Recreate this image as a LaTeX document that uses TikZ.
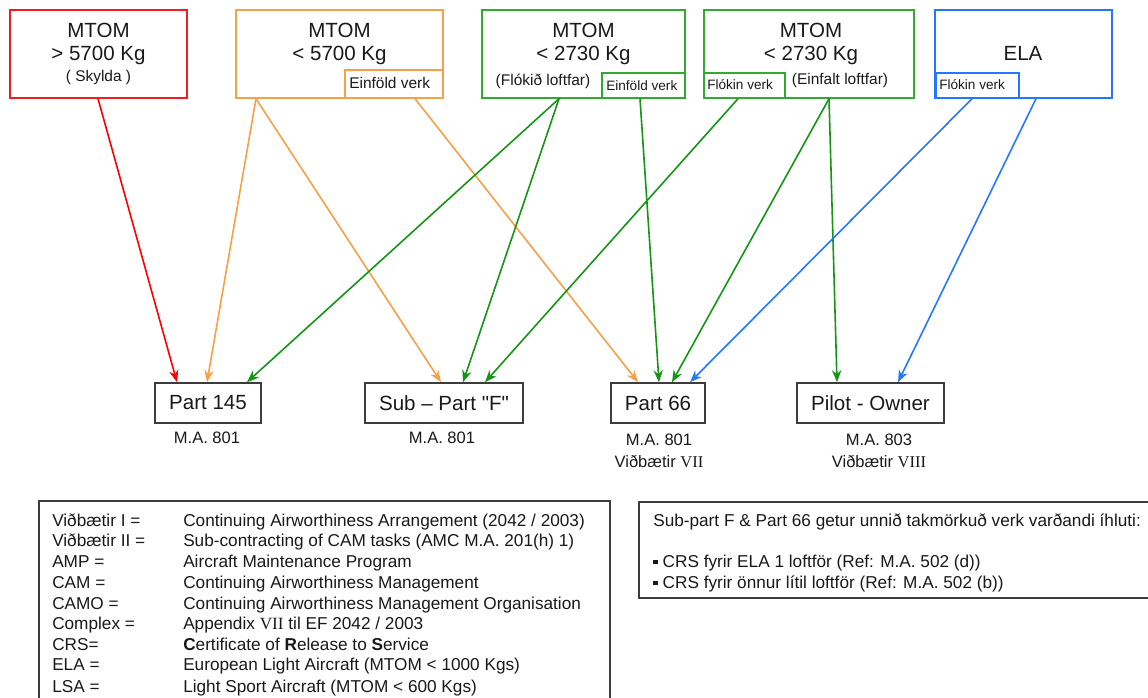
\documentclass[tikz,border=0pt]{standalone}
\usepackage{fontspec}
\setmainfont{Liberation Sans}
\newfontfamily\romfont{Liberation Serif}
\newfontfamily\qfont[Ligatures=TeXOff]{Liberation Sans}
\usetikzlibrary{fit,arrows.meta}
\definecolor{cred}{RGB}{240,30,36}
\definecolor{corange}{RGB}{248,160,72}
\definecolor{cgreen}{RGB}{20,150,20}
\definecolor{cgreenbox}{RGB}{50,170,50}
\definecolor{cblue}{RGB}{35,120,255}
\definecolor{cgray}{RGB}{60,60,60}
\definecolor{ctext}{RGB}{25,25,25}
\begin{document}
\begin{tikzpicture}[x=0.75pt,y=-0.75pt,
  topbox/.style={draw, line width=1.1pt, inner sep=0pt},
  target/.style={draw=cgray, line width=1.2pt, inner sep=0pt},
  big/.style={font=\fontsize{15.4}{18}\selectfont, inner sep=0pt, text=ctext},
  small/.style={font=\fontsize{11.6}{14}\selectfont, inner sep=0pt, text=ctext},
  tiny/.style={font=\fontsize{10.2}{12}\selectfont, inner sep=0pt, anchor=west, text=ctext},
  ma/.style={font=\fontsize{12.4}{15}\selectfont, inner sep=0pt, anchor=base, text=ctext},
  leg/.style={font=\fontsize{12.9}{15}\selectfont, inner sep=0pt, anchor=base west, text=ctext},
  arr/.style={line width=1.2pt, -{Stealth[length=9pt,width=7pt]}},
]
\useasboundingbox (0,0) rectangle (1148,698);

% top boxes
\node[topbox, draw=cred, fit={(10,10) (187,98)}] (red) {};
\node[big] (redt1) at (98.5,30) {MTOM};
\node[big] (redt2) at (98.5,55) {> 5700 Kg};
\node[small] (redt3) at (98.5,78) {( Skylda )};

\node[topbox, draw=corange, fit={(236,10) (443,98)}] (orange) {};
\node[topbox, draw=corange, fit={(345,70) (443,98)}] (orsub) {};
\node[big] (ort1) at (339.5,30) {MTOM};
\node[big] (ort2) at (339.5,55) {< 5700 Kg};
\node[small, anchor=west] (ort3) at (349,83) {Einföld verk};

\node[topbox, draw=cgreenbox, fit={(482,10) (685,98)}] (g1) {};
\node[topbox, draw=cgreenbox, fit={(602,73) (685,98)}] (g1sub) {};
\node[big] (g1t1) at (583.5,30) {MTOM};
\node[big] (g1t2) at (583.5,55) {< 2730 Kg};
\node[small] (g1t3) at (543,81) {(Flókið loftfar)};
\node[tiny] (g1t4) at (606,86) {Einföld verk};

\node[topbox, draw=cgreenbox, fit={(704,10) (914,98)}] (g2) {};
\node[topbox, draw=cgreenbox, fit={(704,73) (785,98)}] (g2sub) {};
\node[big] (g2t1) at (811,30) {MTOM};
\node[big] (g2t2) at (811,55) {< 2730 Kg};
\node[small] (g2t3) at (840,81) {(Einfalt loftfar)};
\node[tiny] (g2t4) at (707,85) {Flókin verk};

\node[topbox, draw=cblue, fit={(935,10) (1112,98)}] (blue) {};
\node[topbox, draw=cblue, fit={(936,73) (1019,98)}] (bsub) {};
\node[big] (bt1) at (1023,53) {ELA};
\node[tiny] (bt2) at (939,85) {Flókin verk};

% targets
\node[target, fit={(155,383) (261,423)}] (p145) {};
\node[big] at (p145.center) {Part 145};
\node[target, fit={(365,383) (523,423)}] (subf) {};
\node[big] at (subf.center) {Sub -- Part {\qfont "F"}};
\node[target, fit={(611,383) (705,423)}] (p66) {};
\node[big] at (p66.center) {Part 66};
\node[target, fit={(797,383) (944,423)}] (pilot) {};
\node[big] at (pilot.center) {Pilot - Owner};

\node[ma] (l1) at (207,443) {M.A. 801};
\node[ma] (l2) at (442,443) {M.A. 801};
\node[ma] (l3) at (659,445) {M.A. 801};
\node[ma] (l4) at (659,467) {Viðbætir {\romfont VII}};
\node[ma] (l5) at (879,445) {M.A. 803};
\node[ma] (l6) at (879,467) {Viðbætir {\romfont VIII}};

% arrows
\draw[arr, draw=red] (red.south -| 98,0) -- (p145.north -| 177,0);
\draw[arr, draw=corange] (orange.south -| 256,0) -- (p145.north -| 207,0);
\draw[arr, draw=corange] (orange.south -| 256,0) -- (subf.north -| 441,0);
\draw[arr, draw=corange] (orsub.south -| 415,0) -- (p66.north -| 638,0);
\draw[arr, draw=cgreen] (g1.south -| 559,0) -- (p145.north -| 247,0);
\draw[arr, draw=cgreen] (g1.south -| 559,0) -- (subf.north -| 463,0);
\draw[arr, draw=cgreen] (g1sub.south -| 640,0) -- (p66.north -| 659,0);
\draw[arr, draw=cgreen] (g2sub.south -| 738,0) -- (subf.north -| 485,0);
\draw[arr, draw=cgreen] (g2.south -| 829,0) -- (p66.north -| 672,0);
\draw[arr, draw=cgreen] (g2.south -| 829,0) -- (pilot.north -| 837,0);
\draw[arr, draw=cblue] (bsub.south -| 972,0) -- (p66.north -| 690,0);
\draw[arr, draw=cblue] (blue.south -| 1036,0) -- (pilot.north -| 898,0);

% legend
\node[draw=cgray, line width=1pt, inner sep=0pt, fit={(39,501) (610,712)}] (legend) {};
\node[leg] at (52,526) {Viðbætir I =};
\node[leg] at (183,526) {Continuing Airworthiness Arrangement (2042 / 2003)};
\node[leg] at (52,546) {Viðbætir II =};
\node[leg] at (183,546) {Sub-contracting of CAM tasks (AMC M.A. 201(h) 1)};
\node[leg] at (52,567) {AMP =};
\node[leg] at (183,567) {Aircraft Maintenance Program};
\node[leg] at (52,588) {CAM =};
\node[leg] at (183,588) {Continuing Airworthiness Management};
\node[leg] at (52,609) {CAMO =};
\node[leg] at (183,609) {Continuing Airworthiness Management Organisation};
\node[leg] at (52,629) {Complex =};
\node[leg] at (183,629) {Appendix {\romfont VII} til EF 2042 / 2003};
\node[leg] at (52,650) {CRS=};
\node[leg] at (183,650) {\textbf{C}ertificate of \textbf{R}elease to \textbf{S}ervice};
\node[leg] at (52,670) {ELA =};
\node[leg] at (183,670) {European Light Aircraft (MTOM < 1000 Kgs)};
\node[leg] at (52,692) {LSA =};
\node[leg] at (183,692) {Light Sport Aircraft (MTOM < 600 Kgs)};

% right note box
\node[draw=cgray, line width=1pt, inner sep=0pt, fit={(639,502) (1160,598)}] (note) {};
\node[leg] at (653,526) {Sub-part F \& Part 66 getur unnið takmörkuð verk varðandi íhluti:};
\node[leg] at (653,567) {\raisebox{0.3ex}{\rule{3.5pt}{3.5pt}} CRS fyrir ELA 1 loftför (Ref: M.A. 502 (d))};
\node[leg] at (653,588) {\raisebox{0.3ex}{\rule{3.5pt}{3.5pt}} CRS fyrir önnur lítil loftför (Ref: M.A. 502 (b))};
\end{tikzpicture}
\end{document}
